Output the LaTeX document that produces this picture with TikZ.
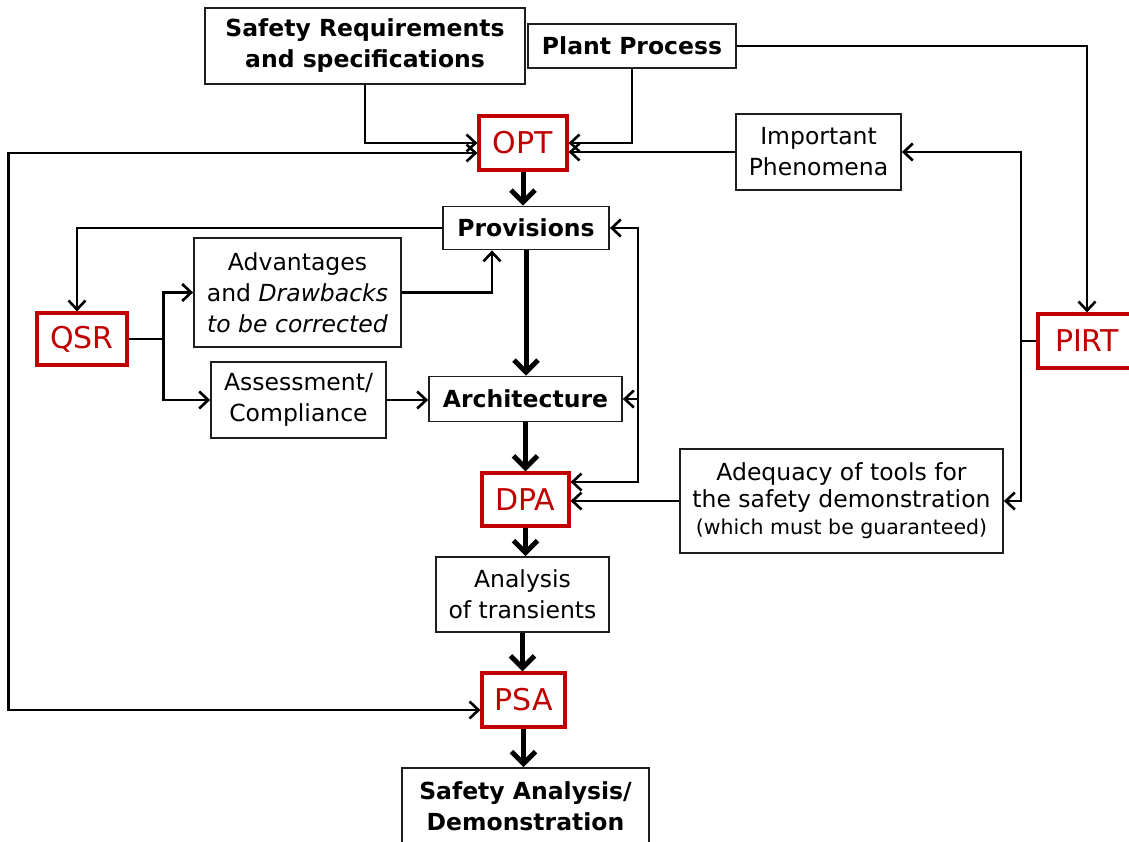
\documentclass[tikz,border=0pt]{standalone}
\usepackage{fontspec}
\setmainfont{DejaVu Sans}
\usetikzlibrary{arrows.meta}
\definecolor{boxred}{RGB}{192,0,0}
\definecolor{edge}{RGB}{30,30,30}
\begin{document}
\begin{tikzpicture}[x=1pt,y=-1pt,
  box/.style={draw=edge, line width=1.8pt, rectangle, inner sep=0pt, align=center,
    font=\fontsize{23.5}{31}\selectfont},
  boldbox/.style={box, font=\fontsize{23.5}{31}\selectfont\bfseries},
  redbox/.style={draw=boxred, line width=3.2pt, rectangle, inner sep=0pt, text=boxred,
    font=\fontsize{30}{36}\selectfont},
  link/.style={line width=2.6pt, -{Straight Barb[length=9pt,width=17pt]}},
  biarrow/.style={line width=2.6pt, {Straight Barb[length=9pt,width=17pt]}-{Straight Barb[length=9pt,width=17pt]}},
  plain/.style={line width=2.6pt},
  flow/.style={line width=5pt, -{Straight Barb[length=12pt,width=24pt]}}
]
\useasboundingbox (0,0) rectangle (1129,842);

% top inputs
\node[boldbox, minimum width=320pt, minimum height=76pt] (safety) at (365,46) {Safety Requirements\\and specifications};
\node[boldbox, minimum width=208pt, minimum height=44pt] (plant) at (632,46) {Plant Process};

% main column
\node[redbox, minimum width=88pt, minimum height=54pt] (opt) at (523,143) {OPT};
\node[boldbox, minimum width=166pt, minimum height=43pt] (prov) at (526,228) {Provisions};
\node[boldbox, minimum width=193pt, minimum height=45pt] (arch) at (525.5,399) {Architecture};
\node[redbox, minimum width=87pt, minimum height=53pt] (dpa) at (525.5,499.5) {DPA};
\node[box, minimum width=173pt, minimum height=75pt] (anal) at (522.5,594.5) {Analysis\\of transients};
\node[redbox, minimum width=83pt, minimum height=54pt] (psa) at (523.5,700) {PSA};
\node[boldbox, minimum width=247pt, minimum height=76pt] (sda) at (525.5,806) {Safety Analysis/\\Demonstration};

% left branch
\node[redbox, minimum width=90pt, minimum height=52pt] (qsr) at (82,339) {QSR};
\node[box, minimum width=207pt, minimum height=109pt] (adv) at (297.5,292.5) {Advantages\\and \textit{Drawbacks}\\\textit{to be corrected}};
\node[box, minimum width=175pt, minimum height=76pt] (assess) at (298.5,400) {Assessment/\\Compliance};

% right branch
\node[box, minimum width=165pt, minimum height=76pt] (imp) at (818.5,152) {Important\\Phenomena};
\node[redbox, minimum width=98pt, minimum height=54pt] (pirt) at (1087,341) {PIRT};
\node[box, minimum width=323pt, minimum height=104pt, font=\fontsize{23.5}{27}\selectfont] (adeq) at (841.5,501)
  {Adequacy of tools for\\the safety demonstration\\{\fontsize{20.5}{26}\selectfont (which must be guaranteed)}};

% inputs to OPT
\draw[link] (safety.south) |- (opt.west);
\draw[link] (plant.south) |- (opt.east);
\draw[link] (imp.west) -- (opt.east |- imp.west);
\draw[biarrow] ([yshift=-10pt]opt.west) -- ++(-469,0) |- ([yshift=-10pt]psa.west);

% PIRT feeds
\draw[link] (plant.east) -| (pirt.north);
\coordinate (pb) at (1021,341);
\draw[plain] (pirt.west) -- (pb);
\draw[link] (pb) |- (imp.east);
\draw[link] (pb) |- (adeq.east);
\draw[link] (adeq.west) -- (dpa.east |- adeq.west);

% feedback from DPA
\coordinate (fb) at (638,482);
\draw[biarrow] (prov.east) -| (fb) -- (dpa.east |- fb);
\draw[link] (fb |- arch.east) -- (arch.east);

% QSR loop
\draw[link] (prov.west) -| ([xshift=-5pt]qsr.north);
\draw[plain] (qsr.east) -- ++(35,0) coordinate (qb);
\draw[link] (qb) |- (adv.west);
\draw[link] (qb) |- (assess.west);
\draw[link] (adv.east) -| ([xshift=-34pt]prov.south);
\draw[link] (assess.east) -- (arch.west |- assess.east);

% main flow
\draw[flow] (opt.south) -- (opt.south |- prov.north);
\draw[flow] (prov.south) -- (prov.south |- arch.north);
\draw[flow] (arch.south) -- (arch.south |- dpa.north);
\draw[flow] (dpa.south) -- (dpa.south |- anal.north);
\draw[flow] (anal.south) -- (anal.south |- psa.north);
\draw[flow] (psa.south) -- (psa.south |- sda.north);
\end{tikzpicture}
\end{document}
